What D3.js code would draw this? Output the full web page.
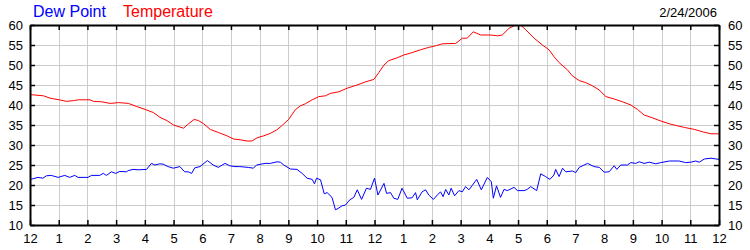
<!DOCTYPE html>
<html>
<head>
<meta charset="utf-8">
<script src="https://cdn.jsdelivr.net/npm/d3@7"></script>
<style>
  body { margin: 0; background: #fff; }
  text { font-family: "Liberation Sans", Arial, sans-serif; }
</style>
</head>
<body>
<div id="chart-area"></div>
<script>

// readings for 2/24/2006, time in hours after midnight
var hourLabels = ["12","1","2","3","4","5","6","7","8","9","10","11",
                  "12","1","2","3","4","5","6","7","8","9","10","11","12"];
var yTicks = [10, 15, 20, 25, 30, 35, 40, 45, 50, 55, 60];

var dewTimes = [0.02,0.28,0.45,0.57,0.74,0.98,1.21,1.38,1.56,1.67,2.02,2.14,2.43,2.55,2.66,2.84,2.98,
  3.13,3.36,3.42,3.59,3.77,4.06,4.23,4.35,4.52,4.64,4.81,4.99,5.22,5.39,5.51,5.63,5.74,5.92,6.18,
  6.38,6.56,6.79,6.96,7.14,7.31,7.6,7.78,7.89,8.19,8.37,8.6,8.72,8.84,9.07,9.3,9.48,9.65,9.83,9.91,
  9.98,10.12,10.25,10.35,10.52,10.64,10.75,10.87,10.99,11.14,11.28,11.4,11.55,11.72,11.86,12.0,
  12.12,12.33,12.42,12.56,12.67,12.81,12.96,13.14,13.31,13.43,13.49,13.66,13.78,13.89,14.05,14.19,
  14.3,14.39,14.48,14.59,14.67,14.79,14.94,15.06,15.17,15.29,15.56,15.72,15.93,16.07,16.14,16.25,
  16.39,16.51,16.63,16.86,16.98,17.21,17.32,17.44,17.65,17.79,17.96,18.11,18.25,18.31,18.43,18.55,
  18.66,18.9,19.01,19.13,19.42,19.65,19.83,20.0,20.17,20.35,20.44,20.58,20.81,20.93,21.1,21.22,
  21.39,21.57,21.8,21.97,22.27,22.61,22.84,23.02,23.19,23.31,23.49,23.72,24.0];
var dewValues = [21.4,21.9,21.7,22.3,22.4,21.9,22.4,21.9,22.4,21.9,21.9,22.4,22.4,22.9,22.4,23.3,22.9,
  23.4,23.3,23.6,23.9,23.8,23.9,25.4,25.0,25.3,25.2,24.6,24.2,24.6,23.3,23.3,22.9,24.3,24.6,26.1,
  25.0,24.4,25.4,24.8,24.6,24.6,24.4,24.2,25.0,25.4,25.4,25.8,25.7,25.0,24.0,23.9,22.9,21.7,21.4,20.3,
  21.7,21.3,17.8,18.1,16.9,13.8,14.2,14.8,15.0,16.3,16.9,18.8,16.4,19.2,18.9,21.7,
  17.5,20.4,17.9,18.1,16.7,16.4,19.2,16.7,16.8,18.1,16.3,18.3,18.8,17.5,16.4,17.5,
  18.3,17.1,18.9,17.5,19.2,17.3,18.6,18.3,19.6,18.8,21.4,18.8,21.9,20.8,16.7,19.8,
  16.9,18.9,18.6,19.4,18.6,18.6,18.9,19.6,18.6,22.8,22.1,21.4,22.5,23.9,22.1,24.2,
  23.3,23.5,23.1,24.4,25.4,24.6,24.4,23.2,23.3,24.8,23.9,25.0,25.0,25.6,25.4,25.8,
  25.4,25.7,25.3,25.6,26.0,26.0,25.6,25.7,26.0,25.7,26.5,26.7,26.4];

var tempTimes = [0,0.47,0.7,1.02,1.28,1.51,1.69,2.09,2.21,2.5,2.79,3.08,3.43,3.72,4.01,4.3,4.53,4.77,
  5.0,5.35,5.52,5.72,5.87,6.05,6.28,6.57,6.86,7.09,7.32,7.56,7.73,7.91,8.14,8.37,8.6,8.8,9.01,9.24,
  9.42,9.59,9.83,10.06,10.29,10.46,10.76,11.05,11.39,11.69,11.98,12.15,12.33,12.5,12.79,13.02,13.31,
  13.6,13.89,14.13,14.36,14.83,15.06,15.23,15.44,15.7,16.05,16.28,16.45,16.69,16.92,17.09,17.27,
  17.56,17.85,18.08,18.25,18.43,18.72,18.89,19.13,19.36,19.59,19.82,20.06,20.35,20.64,20.93,21.16,
  21.39,21.68,21.97,22.32,22.79,23.14,23.43,23.72,24.0];
var tempValues = [42.6,42.3,41.7,41.3,40.9,41.1,41.3,41.3,40.9,40.8,40.4,40.6,40.4,39.6,38.9,38.1,36.9,36.1,
  35.0,34.2,35.3,36.4,36.1,35.3,33.9,33.1,32.3,31.5,31.3,31.0,31.0,31.8,32.3,32.9,33.8,35.0,36.4,38.8,
  39.8,40.3,41.3,42.1,42.3,42.9,43.3,44.2,45.0,45.8,46.4,48.1,50.0,51.1,51.8,52.5,53.1,
  53.8,54.4,54.8,55.3,55.4,56.7,56.7,58.3,57.5,57.5,57.3,57.5,59.2,60.0,60.0,58.8,
  56.7,55.0,53.8,52.1,50.6,48.8,47.3,46.1,45.6,44.8,43.8,42.1,41.5,40.8,40.0,38.9,
  37.5,36.8,36.0,35.2,34.4,33.9,33.3,32.8,32.8];

var dateLabel = "2/24/2006";

var margin = {top: 25, right: 31, bottom: 25, left: 30};
var width = 750 - margin.left - margin.right,
    height = 250 - margin.top - margin.bottom;

var svg = d3.select("#chart-area")
    .append("svg")
    .attr("width", 750)
    .attr("height", 250);

var g = svg.append("g")
    .attr("transform", "translate(" + margin.left + "," + margin.top + ")");

var x = d3.scaleLinear().domain([0, 24]).range([0, width]);
var y = d3.scaleLinear().domain([10, 60]).range([height, 0]);
var hours = d3.range(0, 25);

// grid
g.append("g").selectAll("line.vgrid")
    .data(hours.slice(1, 24))
    .enter().append("line")
    .attr("x1", function(d) { return Math.round(x(d)) + 0.5; })
    .attr("x2", function(d) { return Math.round(x(d)) + 0.5; })
    .attr("y1", 0).attr("y2", height)
    .attr("stroke", "#cccccc");

g.append("g").selectAll("line.hgrid")
    .data(yTicks.slice(1, -1))
    .enter().append("line")
    .attr("y1", function(d) { return Math.round(y(d)) + 0.5; })
    .attr("y2", function(d) { return Math.round(y(d)) + 0.5; })
    .attr("x1", 0).attr("x2", width)
    .attr("stroke", "#cccccc");

// lines
svg.append("defs").append("clipPath").attr("id", "plot")
    .append("rect").attr("width", width).attr("height", height);

function series(times, values) {
    return times.map(function(t, i) { return [t, values[i]]; });
}

var line = d3.line()
    .x(function(d) { return x(d[0]); })
    .y(function(d) { return y(d[1]); });

g.append("path")
    .datum(series(dewTimes, dewValues))
    .attr("clip-path", "url(#plot)")
    .attr("fill", "none")
    .attr("stroke", "#0000ff")
    .attr("stroke-width", 1)
    .attr("d", line);

g.append("path")
    .datum(series(tempTimes, tempValues))
    .attr("clip-path", "url(#plot)")
    .attr("fill", "none")
    .attr("stroke", "#ff0000")
    .attr("stroke-width", 1)
    .attr("d", line);

// axes, ticks point inwards
var fmtHour = function(d) { return hourLabels[d]; };

var axisB = g.append("g")
    .attr("transform", "translate(0," + height + ")")
    .call(d3.axisBottom(x).tickValues(hours).tickFormat(fmtHour)
        .tickSizeInner(-5).tickSizeOuter(0).tickPadding(9));

var axisT = g.append("g")
    .call(d3.axisTop(x).tickValues(hours).tickFormat("")
        .tickSizeInner(-5).tickSizeOuter(0));

var axisL = g.append("g")
    .call(d3.axisLeft(y).tickValues(yTicks)
        .tickSizeInner(-5).tickSizeOuter(0).tickPadding(7));

var axisR = g.append("g")
    .attr("transform", "translate(" + width + ",0)")
    .call(d3.axisRight(y).tickValues(yTicks)
        .tickSizeInner(-5).tickSizeOuter(0).tickPadding(9));

[axisB, axisT, axisL, axisR].forEach(function(a) {
    a.selectAll("path.domain").attr("stroke", "#000").attr("stroke-width", 2);
    a.selectAll(".tick line").attr("stroke", "#000").attr("stroke-width", 1.5);
    a.selectAll(".tick text")
        .attr("fill", "#000")
        .style("font-size", "13px")
        .style("font-family", "'Liberation Sans', Arial, sans-serif");
});

// legend
svg.append("text")
    .attr("x", 33).attr("y", 17)
    .attr("fill", "#0000ff")
    .style("font-size", "16px")
    .text("Dew Point");

svg.append("text")
    .attr("x", 123).attr("y", 17)
    .attr("fill", "#ff0000")
    .style("font-size", "16px")
    .text("Temperature");

svg.append("text")
    .attr("x", 717).attr("y", 17)
    .attr("text-anchor", "end")
    .attr("fill", "#000")
    .style("font-size", "13px")
    .text(dateLabel);

</script>
</body>
</html>
